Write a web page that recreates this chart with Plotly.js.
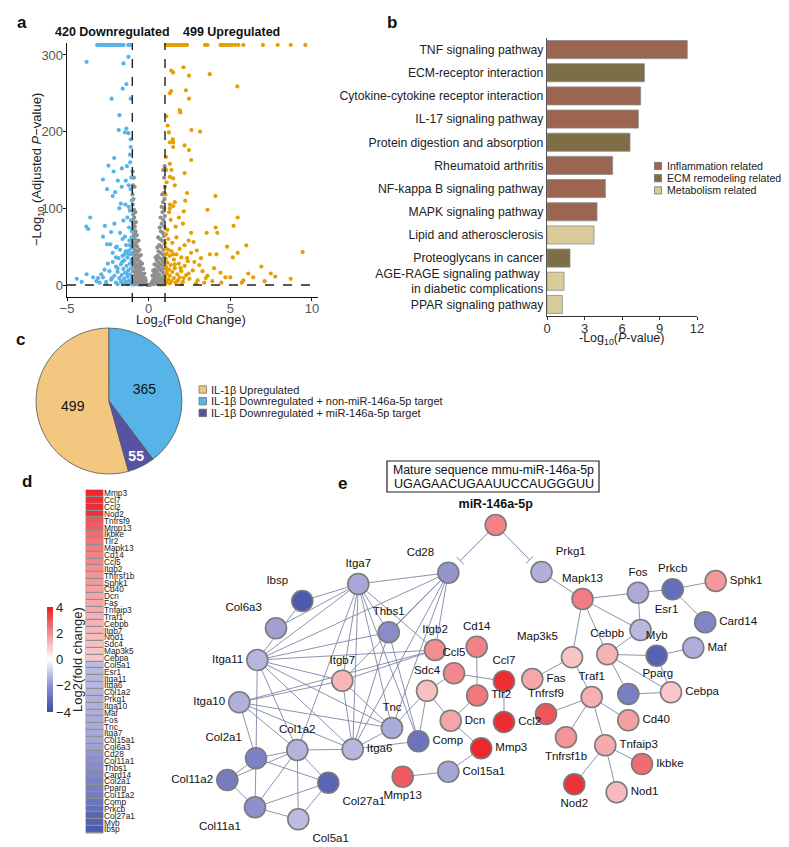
<!DOCTYPE html>
<html><head><meta charset="utf-8">
<script src="https://cdn.plot.ly/plotly-3.0.1.min.js"></script>
<style>html,body{margin:0;padding:0;background:#fff}#chart{width:789px;height:847px}</style>
</head><body><div id="chart"></div>
<script>
// ================= DATA =================
// Panel a: volcano points [log2FC, -log10 adj P]
const downPts = [[-3.8,291],[-1.24,297.6],[-1.54,289],[-1.36,262],[-1.59,256],[-2.27,243],[-1.1,243],[-1.79,221.5],[-1.83,202],[-1.36,204],[-1.45,199],[-1.24,198],[-1.1,190],[-2.11,165.6],[-2.46,155.7],[-1.1,180],[-1.15,170],[-1.13,160],[-1.33,155],[-1.64,152],[-2.15,148],[-2.8,137.6],[-1.89,136],[-1.4,136],[-1.22,130],[-1.65,128],[-2.55,125],[-1.1,125],[-2.05,121],[-2.2,116],[-1.7,106],[-1.42,105],[-1.22,102],[-3.58,88],[-3.82,76],[-3.7,73],[-1.8,100],[-1.15,97],[-1.3,88],[-1.55,84],[-2.68,77],[-2.1,80],[-1.2,75],[-2.3,69],[-1.75,68],[-2.8,63],[-1.45,63],[-2.55,53],[-2.35,53],[-2.0,49],[-4.4,8],[-4.1,4],[-3.8,14],[-3.4,10],[-3.1,9],[-3.2,5],[-2.8,10],[-3.0,3],[-2.6,4],
 [-1.05,48],[-1.2,45],[-1.4,44],[-1.1,40],[-1.6,38],[-1.3,36],[-1.85,35],[-1.05,33],[-1.5,32],[-2.2,30],[-1.15,28],[-1.7,27],[-1.35,25],[-2.0,24],[-1.08,22],[-1.55,21],[-1.25,19],[-2.4,18],[-1.9,17],[-1.45,16],[-1.12,14],[-1.65,13],[-2.1,12],[-1.3,11],[-1.02,10],[-1.8,9],[-1.5,8],[-2.3,7],[-1.2,6],[-1.7,5],[-1.4,4],[-2.0,3],[-1.1,3],[-1.6,2],[-2.6,2],[-1.3,1],[-1.9,1],[-1.0,1],[-2.2,42],[-1.75,46],[-2.5,28],[-1.95,50],[-1.38,52],[-1.18,58],[-1.6,60],[-1.04,62],[-2.0,36],[-2.7,20],[-2.9,14],[-1.48,40],[-1.02,70],[-1.08,84],[-1.03,110],[-1.06,140],[-1.25,41],[-1.62,30],[-1.9,22],[-1.35,15],[-2.25,9],[-1.15,52]];
const upPts = [[1.38,279.6],[1.5,277],[2.13,284],[2.47,273],[3.74,275],[5.43,259],[1.3,250],[1.38,253],[2.28,254],[2.47,243],[1.9,228],[1.94,225],[1.08,220],[2.62,202],[3.15,200],[1.16,208],[1.24,199],[1.48,190],[1.3,186],[1.5,186],[2.2,182],[2.47,176],[2.6,163],[1.5,180],[1.06,167],[1.3,158],[1.4,150],[2.2,146],[1.3,141],[1.5,139],[1.1,134],[1.6,130],[4.09,116],[2.24,110],[1.6,108],[1.3,105],[1.5,103],[3.6,98],[5.45,88],[2.15,96],[1.3,100],[5.2,77],[4.1,75],[2.1,80],[1.65,76],[3.55,68],[4.2,68],[5.98,51.6],[9.43,43],[2.45,58],[2.75,56],[4.8,50],[5.45,42],[4.15,40],[3.75,40],[2.95,45],[5.15,36],[7.48,15],[7.75,11],[7.1,5],[6.4,10],[5.8,6],[5.7,3],[5.0,10],[4.7,10],[4.45,3],[3.9,5],[3.5,9],
 [1.05,48],[1.2,46],[1.4,44],[1.1,41],[1.7,40],[1.3,38],[2.0,36],[1.05,34],[1.55,33],[2.4,31],[1.15,29],[1.85,28],[1.35,26],[2.2,25],[1.08,23],[1.6,22],[1.25,20],[2.7,19],[2.0,18],[1.45,17],[1.12,15],[1.75,14],[2.3,13],[1.3,12],[1.02,11],[1.9,10],[1.55,9],[2.5,8],[1.2,7],[1.8,6],[1.4,5],[2.1,4],[1.1,3],[1.65,3],[2.9,2],[1.3,2],[2.0,1],[1.0,1],[2.6,42],[1.9,47],[3.1,26],[2.2,52],[1.45,55],[1.2,60],[1.7,62],[1.06,66],[2.35,35],[3.3,18],[3.6,12],[1.5,40],[2.8,30],[3.0,6],[3.4,3],[2.45,15],[1.95,22],[1.0,55],[1.15,72],[1.35,85],[1.25,95],[1.03,118],[1.08,150],[4.0,22],[4.4,16],[3.2,35],[2.6,68],[1.85,88],[2.35,120],[1.75,5],[2.15,9],[1.1,19],[1.6,27],[1.04,40],[6.9,24],[8.7,8],[6.1,15]];
const nsPts = [[-0.98,148],[-0.96,130],[-0.99,118],[-0.93,112],[-0.97,105],[-0.9,98],[-0.95,92],[-0.88,88],[-0.99,85],[-0.92,80],[-0.85,76],[-0.97,72],[-0.8,70],[-0.9,66],[-0.94,62],[-0.83,60],[-0.98,56],[-0.76,55],[-0.88,52],[-0.7,50],[-0.93,48],[-0.81,45],[-0.65,44],[-0.96,42],[-0.74,40],[-0.86,38],[-0.6,37],[-0.91,35],[-0.69,34],[-0.79,32],[-0.55,31],[-0.97,30],[-0.84,28],[-0.63,27],[-0.72,26],[-0.5,25],[-0.9,24],[-0.58,23],[-0.77,22],[-0.45,20],[-0.66,19],[-0.95,18],[-0.83,17],[-0.52,16],[-0.71,15],[-0.4,14],[-0.61,13],[-0.88,12],[-0.35,11],[-0.75,10],[-0.47,9],[-0.56,8],[-0.93,7],[-0.3,7],[-0.68,6],[-0.42,5],[-0.82,5],[-0.25,4],[-0.6,3],[-0.37,3],[-0.99,3],[-0.2,2],[-0.5,2],[-0.73,2],[-0.15,1],[-0.32,1],[-0.86,1],[-0.44,0.5],[-0.62,0.5],[-0.1,0.3],[-0.94,0.5],[-0.86,128],[-0.91,140],[-0.82,95],[-0.78,82],[-0.73,65],[-0.62,58],[-0.57,46],[-0.48,39],[-0.4,28],[-0.33,21],[-0.27,15],[-0.22,9],[-0.18,6],
 [0.98,155],[0.95,140],[0.99,128],[0.92,120],[0.97,112],[0.88,108],[0.94,100],[0.85,95],[0.99,90],[0.9,85],[0.8,80],[0.96,76],[0.75,70],[0.87,68],[0.93,64],[0.7,60],[0.82,58],[0.98,54],[0.65,52],[0.77,50],[0.91,46],[0.6,44],[0.72,42],[0.86,40],[0.55,38],[0.95,36],[0.67,35],[0.8,33],[0.5,32],[0.9,30],[0.62,29],[0.74,27],[0.45,26],[0.84,25],[0.57,24],[0.97,22],[0.68,21],[0.4,20],[0.78,19],[0.52,18],[0.88,16],[0.35,15],[0.63,14],[0.47,13],[0.93,12],[0.3,11],[0.72,10],[0.56,9],[0.41,8],[0.83,7],[0.26,6],[0.66,6],[0.5,5],[0.96,5],[0.22,4],[0.37,4],[0.76,3],[0.6,3],[0.18,2],[0.44,2],[0.87,2],[0.3,1],[0.13,1],[0.55,1],[0.7,0.5],[0.08,0.3],[0.92,0.8],[0.89,150],[0.83,118],[0.79,102],[0.73,88],[0.68,75],[0.58,62],[0.53,49],[0.43,36],[0.36,27],[0.28,19],[0.23,12],[-0.05,0.2],[0.03,0.1],[0.0,0.2]];
const capY = 313;
const downCapX = [-3.15,-3.05,-2.95,-2.85,-2.75,-2.65,-2.55,-2.45,-2.35,-2.25,-2.15,-2.05,-1.95,-1.85,-1.75,-1.65,-1.55,-1.25,-1.15];
const upCapX = [1.05,1.12,1.2,1.28,1.35,1.42,1.5,1.6,1.7,1.8,1.9,2.0,2.1,2.2,2.35,3.45,3.6,4.4,4.5,4.6,4.7,4.8,4.95,5.1,5.3,5.5,5.8,7.0,7.9,8.7,9.6];
const nDown = 420, nUp = 499;

// Panel b: KEGG enrichment
const pathways = ['TNF signaling pathway','ECM-receptor interaction','Cytokine-cytokine receptor interaction','IL-17 signaling pathway','Protein digestion and absorption','Rheumatoid arthritis','NF-kappa B signaling pathway','MAPK signaling pathway','Lipid and atherosclerosis','Proteoglycans in cancer','AGE-RAGE signaling pathway <br>in diabetic complications','PPAR signaling pathway'];
const pathLogP = [11.22,7.79,7.49,7.31,6.64,5.25,4.67,4.0,3.76,1.84,1.36,1.23];
const pathGroup = [0,1,0,0,1,0,0,0,2,1,2,2];
const groupNames = ['Inflammation related','ECM remodeling related','Metabolism related'];
const groupColors = ['#9C6551','#7E6E48','#D9CC98'];

// Panel c: pie
const pieLabels = ['IL-1β Upregulated','IL-1β Downregulated + non-miR-146a-5p target','IL-1β Downregulated + miR-146a-5p target'];
const pieValues = [499,365,55];
const pieColors = ['#F3C77F','#56B4E9','#5654A2'];

// Panel d: heatmap genes and log2 fold change
const genes = ['Mmp3','Ccl7','Ccl2','Nod2','Tnfrsf9','Mmp13','Ikbke','Tlr2','Mapk13','Cd14','Ccl5','Itgb2','Tnfrsf1b','Sphk1','Cd40','Dcn','Fas','Tnfaip3','Traf1','Cebpb','Itgb7','Nod1','Sdc4','Map3k5','Cebpa','Col5a1','Esr1','Itga11','Itga6','Col1a2','Prkg1','Itga10','Maf','Fos','Tnc','Itga7','Col15a1','Col6a3','Cd28','Col11a1','Thbs1','Card14','Col2a1','Pparg','Col11a2','Comp','Prkcb','Col27a1','Myb','Ibsp'];
const log2fc = [3.8,3.7,3.7,3.6,3.0,2.9,2.6,2.4,2.3,2.2,2.1,2.0,1.9,1.8,1.7,1.6,1.55,1.5,1.4,1.35,1.3,1.2,1.15,1.05,1.0,-1.2,-1.25,-1.3,-1.3,-1.35,-1.4,-1.4,-1.45,-1.5,-1.5,-1.55,-1.6,-1.7,-1.9,-2.0,-2.1,-2.3,-2.4,-2.5,-2.6,-2.8,-3.0,-3.3,-3.4,-3.6];
const cbTitle = 'Log2(fold change)';

// Panel e: network (layout coordinates of the drawn network)
const mirName = 'miR-146a-5p', mirFC = 2.2;
const nodeNames = ['miR-146a-5p','Cd28','Prkg1','Mapk13','Fos','Prkcb','Sphk1','Esr1','Card14','Myb','Maf','Cebpb','Map3k5','Fas','Traf1','Pparg','Cebpa','Tnfrsf9','Cd40','Tnfrsf1b','Tnfaip3','Ikbke','Nod2','Nod1','Ccl7','Tlr2','Ccl2','Mmp3','Cd14','Itgb2','Ccl5','Sdc4','Dcn','Comp','Tnc','Col15a1','Mmp13','Itga7','Ibsp','Thbs1','Itgb7','Col1a2','Itga6','Col27a1','Col5a1','Col6a3','Itga11','Itga10','Col2a1','Col11a2','Col11a1'];
const nodeX = [495.7,448.3,541.5,582.5,638,672.7,715.7,640.5,705.2,656.7,693.3,607.3,572,532.3,591.7,628.3,671,546,628.3,566,605.3,642,574.3,616.7,504,477.2,504,481.2,476.7,435,454,427,450.7,418.3,392,448.3,402.7,358.3,302.3,388.7,342.3,297.3,352.7,328.3,298.3,276,257.3,239.3,256,227.3,255];
const nodeY = [525,572.7,572,599,592.7,589.2,581,630,622.2,655.7,647.7,654.3,657.3,679,697,694,692.3,714,720.3,737.3,745.3,764,784.3,792.3,681.2,695.5,722,748.3,646.7,650,673.3,690.8,720.7,741.2,728,771.7,776.7,584,601,632.2,680.7,750,749.3,782.7,819.3,628.3,660,702.3,758.3,780,807.3];
const labelPos = ['top center','top left','top right','top center','top center','top center','middle right','top right','middle right','top center','middle right','top center','top left','middle right','top center','top right','middle right','top center','middle right','bottom center','middle right','middle right','bottom center','middle right','top center','middle right','middle right','middle right','top center','top center','top center','top center','middle right','middle right','top center','middle right','bottom center','top center','top left','top center','top center','top center','middle right','bottom right','bottom right','top left','middle left','middle left','top left','middle left','bottom left'];
const edges = [
 ['Itga7','Cd28'],['Itga7','Ibsp'],['Itga7','Col6a3'],['Itga7','Itga11'],['Itga7','Itgb7'],['Itga7','Itga6'],['Itga7','Tnc'],['Itga7','Comp'],['Itga7','Col1a2'],['Itga7','Itgb2'],['Itga7','Thbs1'],
 ['Cd28','Itga11'],['Cd28','Itgb2'],['Cd28','Itga6'],['Cd28','Tnc'],['Cd28','Itgb7'],['Cd28','Thbs1'],
 ['Ibsp','Itga11'],
 ['Itga11','Itgb7'],['Itga11','Itgb2'],['Itga11','Tnc'],['Itga11','Itga6'],['Itga11','Col2a1'],['Itga11','Col1a2'],['Itga11','Thbs1'],
 ['Itga10','Itgb7'],['Itga10','Itgb2'],['Itga10','Itga6'],['Itga10','Col2a1'],['Itga10','Col1a2'],['Itga10','Tnc'],
 ['Itgb7','Itgb2'],['Itgb7','Itga6'],['Itgb7','Tnc'],
 ['Thbs1','Itga6'],['Thbs1','Comp'],
 ['Itga6','Comp'],['Itga6','Tnc'],['Itga6','Col1a2'],
 ['Col1a2','Col2a1'],['Col1a2','Col11a2'],['Col1a2','Col11a1'],['Col1a2','Col27a1'],['Col1a2','Col5a1'],
 ['Col2a1','Col11a2'],['Col2a1','Col11a1'],['Col2a1','Col27a1'],
 ['Col11a2','Col11a1'],['Col11a1','Col5a1'],['Col11a1','Col27a1'],['Col27a1','Col5a1'],
 ['Sdc4','Ccl5'],['Sdc4','Dcn'],['Sdc4','Comp'],['Sdc4','Tnc'],
 ['Ccl5','Ccl7'],['Cd14','Tlr2'],['Tlr2','Dcn'],['Ccl7','Ccl2'],['Dcn','Mmp3'],['Mmp3','Col15a1'],['Col15a1','Mmp13'],
 ['Prkg1','Mapk13'],['Mapk13','Fos'],['Mapk13','Esr1'],['Mapk13','Map3k5'],['Mapk13','Cebpb'],['Fos','Prkcb'],['Fos','Esr1'],
 ['Prkcb','Sphk1'],['Prkcb','Card14'],['Esr1','Cebpb'],['Cebpb','Myb'],['Cebpb','Pparg'],['Cebpb','Cebpa'],['Myb','Maf'],['Myb','Cebpa'],['Pparg','Cebpa'],
 ['Map3k5','Fas'],['Map3k5','Traf1'],['Traf1','Tnfrsf9'],['Traf1','Tnfrsf1b'],['Traf1','Cd40'],['Traf1','Tnfaip3'],
 ['Tnfaip3','Nod2'],['Tnfaip3','Ikbke'],['Tnfaip3','Nod1']];
const inhibits = [['miR-146a-5p','Cd28'],['miR-146a-5p','Prkg1']];
const matureSeqTitle = 'Mature sequence mmu-miR-146a-5p';
const matureSeq = 'UGAGAACUGAAUUCCAUGGGUU';

// ================= BUILD =================
const W = 789, H = 847;
const px = v => v / W, py = v => 1 - v / H;
const FONT = 'Arial, "Liberation Sans", sans-serif';
const traces = [];

// volcano
const mk = (pts, color) => ({type:'scatter', mode:'markers', x:pts.map(p=>p[0]), y:pts.map(p=>p[1]),
  xaxis:'x', yaxis:'y', marker:{size:4.2, color:color}, hoverinfo:'skip'});
traces.push(mk(nsPts, '#8f8f8f'));
traces.push(mk(downPts.concat(downCapX.map(x=>[x,capY])), '#56B4E9'));
traces.push(mk(upPts.concat(upCapX.map(x=>[x,capY])), '#E69F00'));

// bars
traces.push({type:'bar', orientation:'h', x:pathLogP, y:pathways, xaxis:'x2', yaxis:'y2', width:0.78,
  marker:{color:pathGroup.map(g=>groupColors[g]), line:{color:'#8a8a8a', width:0.8}}, hoverinfo:'skip'});

// pie
traces.push({type:'pie', labels:pieLabels, values:pieValues, sort:false, direction:'clockwise', rotation:164.5,
  domain:{x:[px(36),px(182)], y:[py(474),py(328)]},
  marker:{colors:pieColors, line:{color:'#555', width:0.8}},
  textinfo:'none', texttemplate:['%{value}','%{value}','<b>%{value}</b>'], textposition:'inside',
  insidetextorientation:'horizontal',
  insidetextfont:{size:14, color:['#111','#111','#fff'], family:FONT}, showlegend:false, hoverinfo:'skip'});

// heatmap
traces.push({type:'heatmap', z:log2fc.map(v=>[v]), x:['FC'], y:genes, xaxis:'x3', yaxis:'y3',
  coloraxis:'coloraxis', ygap:1.2, hoverinfo:'skip'});

// network edges
const idx = {}; nodeNames.forEach((n,i)=>idx[n]=i);
const ex = [], ey = [];
edges.forEach(([a,b])=>{ ex.push(nodeX[idx[a]], nodeX[idx[b]], null); ey.push(nodeY[idx[a]], nodeY[idx[b]], null); });
traces.push({type:'scatter', mode:'lines', x:ex, y:ey, xaxis:'x4', yaxis:'y4', line:{color:'#7f86a6', width:0.9}, hoverinfo:'skip'});
// inhibition edges with T-bars
const ix = [], iy = [];
inhibits.forEach(([a,b])=>{
  const x0=nodeX[idx[a]], y0=nodeY[idx[a]], x1=nodeX[idx[b]], y1=nodeY[idx[b]];
  const d=Math.hypot(x1-x0,y1-y0), ux=(x1-x0)/d, uy=(y1-y0)/d;
  const sx=x0+ux*11, sy=y0+uy*11, tx=x1-ux*17, ty=y1-uy*17;
  ix.push(sx,tx,null, tx-uy*5, tx+uy*5, null); iy.push(sy,ty,null, ty+ux*5, ty-ux*5, null);
});
traces.push({type:'scatter', mode:'lines', x:ix, y:iy, xaxis:'x4', yaxis:'y4', line:{color:'#7f86a6', width:1}, hoverinfo:'skip'});
// nodes
const fcOf = {}; genes.forEach((g,i)=>fcOf[g]=log2fc[i]); fcOf[mirName]=mirFC;
traces.push({type:'scatter', mode:'markers+text', x:nodeX, y:nodeY, xaxis:'x4', yaxis:'y4',
  text:nodeNames.map(n=> n===mirName ? '<b>'+n+'</b>' : n), textposition:labelPos,
  textfont:{size:nodeNames.map(n=>n===mirName?12.5:11.5), color:'#111', family:FONT},
  marker:{size:21, color:nodeNames.map(n=>fcOf[n]), coloraxis:'coloraxis', line:{color:'#7b7b7b', width:1.6}},
  hoverinfo:'skip'});

// ================= LAYOUT =================
const shapes = [], annotations = [];
const note = (x, y, text, font, extra) => annotations.push(Object.assign({xref:'paper', yref:'paper', x:px(x), y:py(y),
  xanchor:'center', yanchor:'middle', text:text, showarrow:false, font:font}, extra||{}));
// volcano thresholds
[-1,1].forEach(v=>shapes.push({type:'line', xref:'x', yref:'y domain', x0:v, x1:v, y0:-0.02, y1:1, line:{color:'#222', width:1.4, dash:'dash'}}));
shapes.push({type:'line', xref:'x domain', yref:'y', x0:0, x1:1, y0:0, y1:0, line:{color:'#222', width:1.4, dash:'dash'}});
note(112, 32, '<b>'+nDown+' Downregulated</b>', {size:12.5, color:'#111'});
note(231, 32, '<b>'+nUp+' Upregulated</b>', {size:12.5, color:'#111'});
// axis titles
note(191, 320, 'Log<sub>2</sub>(Fold Change)', {size:13, color:'#222'});
note(38, 170, '−Log<sub>10</sub> (Adjusted <i>P</i>−value)', {size:13, color:'#222'}, {textangle:-90});
note(622, 339, '-Log<sub>10</sub>(<i>P</i>-value)', {size:12.5, color:'#222'});
note(77, 660, cbTitle, {size:13, color:'#222'}, {textangle:-90});
// panel letters
[['a',22,22],['b',392,22],['c',20,339],['d',27,481],['e',342,483]].forEach(([t,x,y])=>
  note(x, y, '<b>'+t+'</b>', {size:17, color:'#111'}));
// bar legend
groupNames.forEach((g,i)=>{
  const cy = 166 + i*12.2;
  shapes.push({type:'rect', xref:'paper', yref:'paper', x0:px(654.5), x1:px(661.5), y0:py(cy+3.6), y1:py(cy-3.6), fillcolor:groupColors[i], line:{color:'#666', width:0.7}});
  note(665, cy, g, {size:10.6, color:'#222'}, {xanchor:'left'});
});
// pie legend
pieLabels.forEach((g,i)=>{
  const cy = 389.5 + i*11.7;
  shapes.push({type:'rect', xref:'paper', yref:'paper', x0:px(199), x1:px(206.5), y0:py(cy+3.7), y1:py(cy-3.7), fillcolor:pieColors[i], line:{color:'#666', width:0.7}});
  note(209, cy, g, {size:11, color:'#222'}, {xanchor:'left'});
});
// heatmap cell border background
shapes.push({type:'rect', xref:'paper', yref:'paper', layer:'below', x0:px(86), x1:px(103), y0:py(833), y1:py(490), fillcolor:'#8f8f8f', line:{color:'#8f8f8f', width:1}});
// mature sequence box
shapes.push({type:'rect', xref:'paper', yref:'paper', x0:px(387), x1:px(599), y0:py(492), y1:py(461), line:{color:'#222', width:1.2}, fillcolor:'rgba(0,0,0,0)'});
note(493, 470, matureSeqTitle, {size:12.3, color:'#111'});
note(494, 483.5, matureSeq, {size:12.6, color:'#111'});

const layout = {
  width:W, height:H, margin:{l:0,r:0,t:0,b:0,pad:0},
  paper_bgcolor:'#fff', plot_bgcolor:'rgba(0,0,0,0)', showlegend:false,
  font:{family:FONT, size:12, color:'#111'},
  xaxis:{domain:[px(67),px(318)], range:[-5,10.37], anchor:'y', showline:true, linecolor:'#111', linewidth:1.3,
    ticks:'outside', ticklen:3, tickcolor:'#111', tickvals:[-5,0,5,10], tickfont:{size:13, color:'#555'},
    ticklabelstandoff:-4, showgrid:false, zeroline:false},
  yaxis:{domain:[py(297),py(43)], range:[-15.65,315.6], anchor:'x', showline:true, linecolor:'#111', linewidth:1.3,
    ticks:'outside', ticklen:3, tickcolor:'#111', tickvals:[0,100,200,300], tickfont:{size:13, color:'#555'},
    ticklabelstandoff:-3, showgrid:false, zeroline:false},
  xaxis2:{domain:[px(547),px(697)], range:[0,12], anchor:'y2', showline:true, linecolor:'#333', linewidth:1.2,
    ticks:'outside', ticklen:3, tickcolor:'#333', tickvals:[0,3,6,9,12], tickfont:{size:13, color:'#333'},
    ticklabelstandoff:-3, showgrid:false, zeroline:false},
  yaxis2:{domain:[py(316),py(38)], range:[11.5,-0.5], type:'category', anchor:'x2', showline:true, linecolor:'#555', linewidth:1.2,
    ticks:'', tickfont:{size:12.2, color:'#222'}, showgrid:false, zeroline:false},
  xaxis3:{domain:[px(86),px(103)], anchor:'y3', visible:false},
  yaxis3:{domain:[py(833),py(490)], anchor:'x3', side:'right', type:'category', autorange:'reversed',
    tickmode:'linear', tick0:0, dtick:1, ticks:'', tickfont:{size:8.3, color:'#222'}, showgrid:false, zeroline:false, showline:false},
  xaxis4:{domain:[0,1], range:[0,W], anchor:'y4', visible:false},
  yaxis4:{domain:[0,1], range:[H,0], anchor:'x4', visible:false},
  coloraxis:{cmin:-4, cmax:4,
    colorscale:[[0,'#3A4EA5'],[0.25,'#8E8FCC'],[0.5,'#FFFFFF'],[0.75,'#F28E92'],[1,'#EC1C24']],
    colorbar:{x:px(47), xanchor:'left', y:py(659.5), yanchor:'middle', thickness:6, len:105, lenmode:'pixels',
      xpad:0, ypad:0, outlinewidth:0, ticks:'', tickvals:[-4,-2,0,2,4], tickfont:{size:13, color:'#222'}}},
  shapes:shapes, annotations:annotations
};
Plotly.newPlot('chart', traces, layout, {staticPlot:true, displayModeBar:false});
</script></body></html>
